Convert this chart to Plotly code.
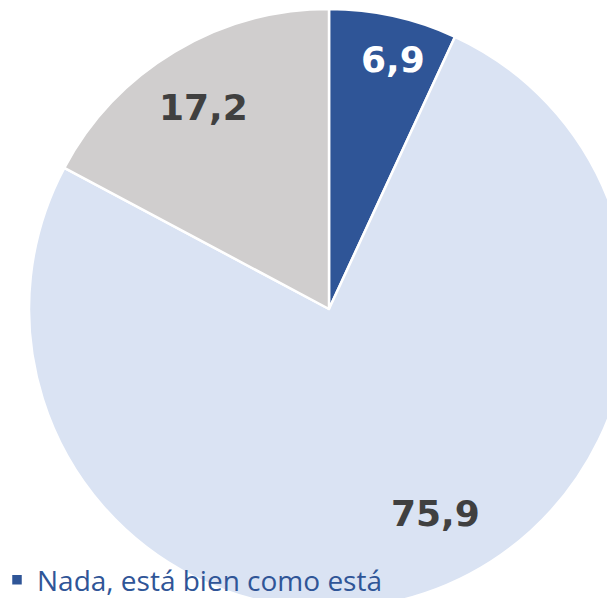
import math
import plotly.graph_objects as go

# datos (porcentajes)
categorias = ["Nada, está bien como está", "Algo", "Mucho"]
valores = [6.9, 75.9, 17.2]
etiquetas = ["6,9", "75,9", "17,2"]

colores = ["#2F5597", "#DAE3F3", "#D0CECE"]
colores_texto = ["#FFFFFF", "#404040", "#404040"]

# estilo de las etiquetas: fraccion del radio y giro (grados) respecto al centro de la porcion
radio_etiqueta = [0.86, 0.77, 0.79]
giro_etiqueta = [2, -9, -1]

# figura mayor que la ventana: el grafico original sale recortado (leyenda sigue a la derecha)
W, H = 3000, 720
cx, cy, r = 321, 301, 300  # en pixeles de la figura

fig = go.Figure()

fig.add_trace(go.Pie(
    labels=categorias,
    values=valores,
    textinfo="none",
    sort=False,
    direction="clockwise",
    rotation=0,
    marker=dict(colors=colores, line=dict(color="white", width=2.5)),
    domain=dict(x=[(cx - r) / W, (cx + r) / W],
                y=[(H - cy - r) / H, (H - cy + r) / H]),
    hoverinfo="label+value",
))

# etiquetas de valor colocadas en el angulo medio de cada porcion
total = sum(valores)
acum = 0
for v, txt, col, fr, g in zip(valores, etiquetas, colores_texto, radio_etiqueta, giro_etiqueta):
    ang = math.radians((acum + v / 2) / total * 360 + g)
    acum += v
    px = cx + fr * r * math.sin(ang)
    py = cy - fr * r * math.cos(ang)
    fig.add_annotation(x=px / W, y=(H - py) / H, xref="paper", yref="paper",
                       xanchor="center", yanchor="middle",
                       text=txt, showarrow=False,
                       font=dict(family="DejaVu Sans", size=36, color=col, weight="bold"))

fig.update_layout(
    width=W, height=H,
    margin=dict(l=0, r=0, t=0, b=0, autoexpand=False),
    paper_bgcolor="white",
    showlegend=True,
    legend=dict(orientation="h", x=-11 / W, xanchor="left", y=(H - 547) / H, yanchor="top",
                entrywidth=600, entrywidthmode="pixels",
                font=dict(family="Open Sans", size=28, color="#2F5597"),
                bgcolor="rgba(0,0,0,0)"),
)

fig.write_html("out.html")
